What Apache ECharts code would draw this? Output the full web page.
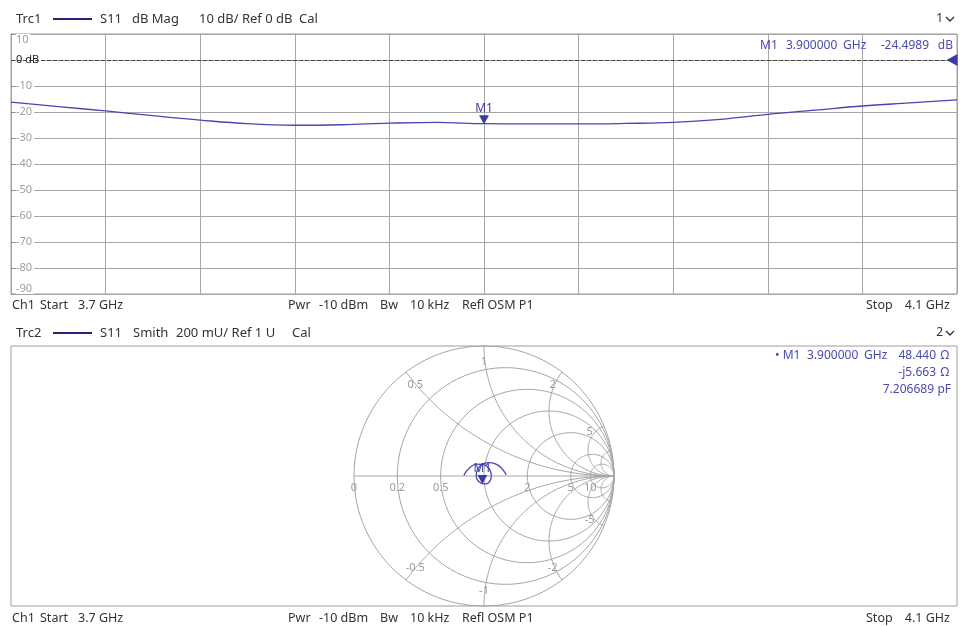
<!DOCTYPE html>
<html><head><meta charset="utf-8">
<script src="https://cdn.jsdelivr.net/npm/echarts@6/dist/echarts.min.js"></script>
<style>html,body{margin:0;padding:0;background:#fff}#c{width:960px;height:626px}</style>
</head><body><div id="c"></div>
<script>
// ---- data ----
const freqMHz = [3700,3720,3740,3760,3780,3800,3820,3840,3860,3880,3900,3920,3940,3960,3980,4000,4020,4040,4060,4080,4100];
const s11dB   = [-16.2,-17.9,-19.6,-21.4,-23.1,-24.5,-25.1,-24.9,-24.3,-24.0,-24.5,-24.6,-24.6,-24.4,-24.0,-22.8,-20.9,-19.3,-17.7,-16.5,-15.3];
const gammaRe = [-0.155,-0.110,-0.052,0.000,0.035,0.052,0.056,0.052,0.039,0.015,-0.0125,-0.036,-0.053,-0.060,-0.057,-0.044,-0.016,0.033,0.092,0.139,0.171];
const gammaIm = [0.005,0.064,0.091,0.085,0.061,0.030,0.000,-0.024,-0.047,-0.061,-0.0583,-0.046,-0.026,0.000,0.028,0.057,0.089,0.103,0.092,0.056,0.009];
const dbTicks = [10,0,-10,-20,-30,-40,-50,-60,-70,-80,-90];
const smithResistance = [0,0.2,0.5,1,2,5,10];
const smithReactance = [0.5,1,2,5,10,-0.5,-1,-2,-5,-10];
const m1FreqMHz = 3900, m1dB = -24.4989, m1GammaRe = -0.0125, m1GammaIm = -0.0583;
const headerTexts1 = ['Trc1','S11','dB Mag','10 dB/ Ref 0 dB','Cal'];
const headerTexts2 = ['Trc2','S11','Smith','200 mU/ Ref 1 U','Cal'];
const footerTexts = ['Ch1','Start','3.7 GHz','Pwr','-10 dBm','Bw','10 kHz','Refl OSM P1','Stop','4.1 GHz'];
const m1Readout1 = ['M1','3.900000','GHz','-24.4989','dB'];
const m1Readout2 = ['\u2022 M1','3.900000','GHz','48.440','\u03A9','-j5.663','\u03A9','7.206689','pF'];

// ---- style ----
const TRACE = '#4646b6', TXT = '#333333', MK = '#4a4ab4', GRIDC = '#a6a6a6';
const FONT = '"Noto Sans", "Open Sans", sans-serif';

const chart = echarts.init(document.getElementById('c'), null, {renderer:'canvas'});

function txt(x, y, s, o) {
  o = o || {};
  return {type:'text', x:x, y:y, z:100, silent:true,
    style:{text:s, fill:o.fill||TXT, font:(o.size||12)+'px '+FONT, align:o.align||'left', verticalAlign:'middle'}};
}
function chevron(x, y) {
  return {type:'polyline', z:100, silent:true, shape:{points:[[x,y-2],[x+4,y+2],[x+8,y-2]]}, style:{stroke:TXT, lineWidth:1.4, fill:null}};
}
function legendLine(x1, x2, y) {
  return {type:'line', z:100, silent:true, shape:{x1:x1, y1:y, x2:x2, y2:y}, style:{stroke:'#24247a', lineWidth:2}};
}
function header(y, t, num, xs) {
  const o = {size:13};
  return [txt(16,y,t[0],o), legendLine(53,92,y), txt(100,y,t[1],o), txt(xs[0],y,t[2],o),
          txt(xs[1],y,t[3],o), txt(xs[2],y,t[4],o), txt(943,y,num,{align:'right', size:12}), chevron(946,y)];
}
function footer(y) {
  const f = footerTexts, o = {size:12.5};
  return [txt(12,y,f[0],o), txt(40,y,f[1],o), txt(78,y,f[2],o), txt(288,y,f[3],o), txt(319,y,f[4],o),
          txt(380,y,f[5],o), txt(410,y,f[6],o), txt(462,y,f[7],o), txt(866,y,f[8],o), txt(950,y,f[9],{align:'right', size:12.5})];
}

const graphics = [].concat(
  header(19, headerTexts1, '1', [132,199,299]),
  footer(305),
  header(333, headerTexts2, '2', [133,176,292]),
  footer(618),
  [txt(760,46,m1Readout1[0],{fill:MK}), txt(786,46,m1Readout1[1],{fill:MK}), txt(843,46,m1Readout1[2],{fill:MK}),
   txt(929,46,m1Readout1[3],{fill:MK,align:'right'}), txt(953,46,m1Readout1[4],{fill:MK,align:'right'})],
  [txt(775,356,m1Readout2[0],{fill:MK}), txt(807,356,m1Readout2[1],{fill:MK}), txt(864,356,m1Readout2[2],{fill:MK}),
   txt(936,356,m1Readout2[3],{fill:MK,align:'right'}), txt(949,356,m1Readout2[4],{fill:MK,align:'right'}),
   txt(936,373,m1Readout2[5],{fill:MK,align:'right'}), txt(949,373,m1Readout2[6],{fill:MK,align:'right'}),
   txt(934,390,m1Readout2[7],{fill:MK,align:'right'}), txt(951,390,m1Readout2[8],{fill:MK,align:'right'})]
);

// Smith grid drawn through the cartesian axes of grid 1
const smithGridData = [].concat(
  smithResistance.map(r => [0, r]),
  smithReactance.map(x => [1, x]),
  [[2, 0]]
);
function smithGridItem(params, api) {
  const kind = api.value(0), v = api.value(1);
  const pts = []; const N = 120;
  let label = null, lp = null, dy = 0;
  if (kind === 0) {
    const cx = v/(1+v), r = 1/(1+v);
    for (let k=0;k<=N;k++){ const a = 2*Math.PI*k/N; pts.push(api.coord([cx + r*Math.cos(a), r*Math.sin(a)])); }
    if (v !== 1) { lp = api.coord([(v-1)/(v+1), 0]); label = String(v); dy = 12; }
  } else if (kind === 1) {
    const ax = Math.abs(v), s = Math.sign(v);
    const c = 1/ax, r = 1/ax;
    const px = (ax*ax-1)/(ax*ax+1), py = 2*ax/(ax*ax+1);
    const a1 = -Math.PI/2;
    let a2 = Math.atan2(py - c, px - 1);
    while (a2 > a1) a2 -= 2*Math.PI;
    for (let k=0;k<=N;k++){ const a = a1 + (a2-a1)*k/N; pts.push(api.coord([1 + r*Math.cos(a), s*(c + r*Math.sin(a))])); }
    if (ax <= 5) { lp = api.coord([0.88*px, 0.88*s*py]); label = String(v); }
  } else {
    pts.push(api.coord([-1,0]), api.coord([1,0]));
  }
  const children = [{type:'polyline', shape:{points:pts}, style:{stroke:GRIDC, lineWidth:1, fill:null}}];
  if (label) children.push({type:'text', x:lp[0], y:lp[1]+dy,
    style:{text:label, fill:'#9a9a9a', font:'11px '+FONT, align:'center', verticalAlign:'middle'}});
  return {type:'group', children:children};
}

const half = 946/260;
const option = {
  backgroundColor:'#fff',
  animation:false,
  graphic: graphics,
  grid:[
    {left:11, width:946, top:34, height:260, show:true, borderColor:'#9c9c9c', borderWidth:1, backgroundColor:'#fff'},
    {left:11, width:946, top:346, height:260, show:true, borderColor:'#9c9c9c', borderWidth:1, backgroundColor:'#fff'}
  ],
  xAxis:[
    {gridIndex:0, type:'value', min:0, max:freqMHz[freqMHz.length-1]-freqMHz[0], interval:40,
     axisLine:{show:false}, axisTick:{show:false}, axisLabel:{show:false},
     splitLine:{show:true, lineStyle:{color:GRIDC, width:1}}},
    {gridIndex:1, type:'value', min:-half, max:half, show:false, splitLine:{show:false}}
  ],
  yAxis:[
    {gridIndex:0, type:'value', min:dbTicks[dbTicks.length-1], max:dbTicks[0], interval:10,
     axisLine:{show:false}, axisTick:{show:true, inside:true, length:3, lineStyle:{color:'#888'}},
     axisLabel:{inside:true, margin:5, fontSize:11, color:'#a0a0a0', fontFamily:'"Noto Sans", sans-serif',
       backgroundColor:'#fff', padding:[0,2,0,0],
       verticalAlignMinLabel:'bottom', verticalAlignMaxLabel:'top',
       formatter: v => v === 0 ? '{z|0 dB}' : String(v),
       rich:{z:{color:'#222', fontSize:11, fontFamily:'"Noto Sans", sans-serif', backgroundColor:'#fff', padding:[0,2,0,0]}}},
     splitLine:{show:true, lineStyle:{color:GRIDC, width:1}}},
    {gridIndex:1, type:'value', min:-1, max:1, show:false, splitLine:{show:false}}
  ],
  series:[
    {type:'line', xAxisIndex:0, yAxisIndex:0, z:5,
     data: freqMHz.map((f,i)=>[f-freqMHz[0], s11dB[i]]),
     smooth:0.4, showSymbol:false, symbol:'none', lineStyle:{color:TRACE, width:1.3},
     markLine:{silent:true, symbol:'none', label:{show:false}, z:4,
       lineStyle:{color:'#444', type:[4,2], width:1}, data:[{yAxis:0}]},
     markPoint:{silent:true, z:8, data:[
       {coord:[m1FreqMHz-freqMHz[0], m1dB], symbol:'triangle', symbolRotate:180, symbolSize:[10,9], symbolOffset:[0,-4],
        itemStyle:{color:'#3a3aa8'},
        label:{show:true, formatter:'M1', position:'top', distance:1, color:'#3a3aa8', fontSize:12, fontFamily:FONT}},
       {coord:[freqMHz[freqMHz.length-1]-freqMHz[0], 0], symbol:'triangle', symbolRotate:90, symbolSize:[12,11], symbolOffset:[-5,0],
        itemStyle:{color:'#3a3aa8'}, label:{show:false}}
     ]}},
    {type:'custom', xAxisIndex:1, yAxisIndex:1, z:1, silent:true, clip:false,
     data: smithGridData, renderItem: smithGridItem},
    {type:'line', xAxisIndex:1, yAxisIndex:1, z:5,
     data: gammaRe.map((re,i)=>[re, gammaIm[i]]),
     smooth:0.5, showSymbol:false, symbol:'none', lineStyle:{color:TRACE, width:1.3},
     markPoint:{silent:true, z:8, data:[
       {coord:[m1GammaRe, m1GammaIm], symbol:'triangle', symbolRotate:180, symbolSize:[10,9], symbolOffset:[0,-4],
        itemStyle:{color:'#3a3aa8'},
        label:{show:true, formatter:'M1', position:'top', distance:1, color:'#3a3aa8', fontSize:12, fontFamily:FONT}}
     ]}}
  ]
};
chart.setOption(option);
</script>
</body></html>
